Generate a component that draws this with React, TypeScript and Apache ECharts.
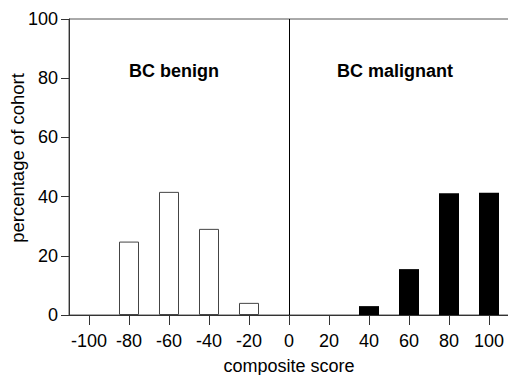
import React, { useEffect, useRef } from "react";
import * as echarts from "echarts";

const xTicks = [-100, -80, -60, -40, -20, 0, 20, 40, 60, 80, 100];
const yTicks = [0, 20, 40, 60, 80, 100];
const benignScores = [-100, -80, -60, -40, -20];
const benignValues = [0, 24.8, 41.6, 29.1, 4.1];
const malignantScores = [0, 20, 40, 60, 80, 100];
const malignantValues = [0, 0, 3.0, 15.5, 41.1, 41.3];
const groupLabels = ["BC benign", "BC malignant"];
const xTitle = "composite score";
const yTitle = "percentage of cohort";

const FONT = "'Liberation Sans', Arial, Helvetica, sans-serif";

export default function App() {
  const ref = useRef<HTMLDivElement>(null);
  useEffect(() => {
    if (!ref.current) return;
    const chart = echarts.init(ref.current, null, { renderer: "svg" });
    const benign = benignScores
      .map((s, i) => [s, benignValues[i]])
      .filter((d) => d[1] > 0);
    const malignant = malignantScores
      .map((s, i) => [s, malignantValues[i]])
      .filter((d) => d[1] > 0);
    chart.setOption({
      animation: false,
      backgroundColor: "#fff",
      textStyle: { fontFamily: FONT },
      grid: {
        left: 69,
        right: -1,
        top: 19,
        bottom: 60,
        containLabel: false,
        outerBoundsMode: "none",
        show: true,
        borderColor: "#555",
        borderWidth: 1,
        backgroundColor: "transparent",
      },
      xAxis: {
        type: "value",
        min: -110,
        max: 110,
        name: xTitle,
        nameLocation: "middle",
        nameGap: 42,
        nameTextStyle: { fontSize: 18, color: "#000", fontFamily: FONT },
        axisLine: { show: true, onZero: false, lineStyle: { color: "#333", width: 1 } },
        axisTick: {
          show: true,
          length: 10,
          customValues: xTicks,
          lineStyle: { color: "#333", width: 1 },
        },
        axisLabel: {
          customValues: xTicks,
          fontSize: 18,
          color: "#000",
          margin: 17,
          fontFamily: FONT,
        },
        splitLine: { show: false },
      },
      yAxis: {
        type: "value",
        min: 0,
        max: 100,
        interval: 20,
        axisLine: { show: true, onZero: false, lineStyle: { color: "#333", width: 1 } },
        axisTick: {
          show: true,
          length: 8,
          customValues: yTicks,
          lineStyle: { color: "#333", width: 1 },
        },
        axisLabel: {
          customValues: yTicks,
          fontSize: 18,
          color: "#000",
          margin: 11,
          fontFamily: FONT,
        },
        splitLine: { show: false },
      },
      series: [
        {
          name: "benign",
          type: "bar",
          data: benign,
          barWidth: 20,
          barGap: "-100%",
          clip: false,
          itemStyle: { color: "#fff", borderColor: "#444", borderWidth: 1 },
          markLine: {
            silent: true,
            symbol: "none",
            label: { show: false },
            lineStyle: { color: "#000", width: 1, type: "solid" },
            data: [{ xAxis: 0 }],
          },
        },
        {
          name: "malignant",
          type: "bar",
          data: malignant,
          barWidth: 20,
          barGap: "-100%",
          clip: false,
          itemStyle: { color: "#000", borderWidth: 0 },
        },
      ],
      graphic: [
        {
          type: "text",
          x: 17,
          y: 158,
          rotation: Math.PI / 2,
          style: {
            text: yTitle,
            fontSize: 18.5,
            fontFamily: FONT,
            fill: "#000",
            align: "center",
            verticalAlign: "middle",
          },
        },
        {
          type: "text",
          x: 174,
          y: 71,
          style: {
            text: groupLabels[0],
            fontSize: 18,
            fontWeight: "bold",
            fontFamily: FONT,
            fill: "#000",
            align: "center",
            verticalAlign: "middle",
          },
        },
        {
          type: "text",
          x: 395,
          y: 71,
          style: {
            text: groupLabels[1],
            fontSize: 18,
            fontWeight: "bold",
            fontFamily: FONT,
            fill: "#000",
            align: "center",
            verticalAlign: "middle",
          },
        },
      ],
    });
    return () => chart.dispose();
  }, []);
  return <div ref={ref} style={{ width: 508, height: 375, position: "absolute", left: 0, top: 0 }} />;
}
